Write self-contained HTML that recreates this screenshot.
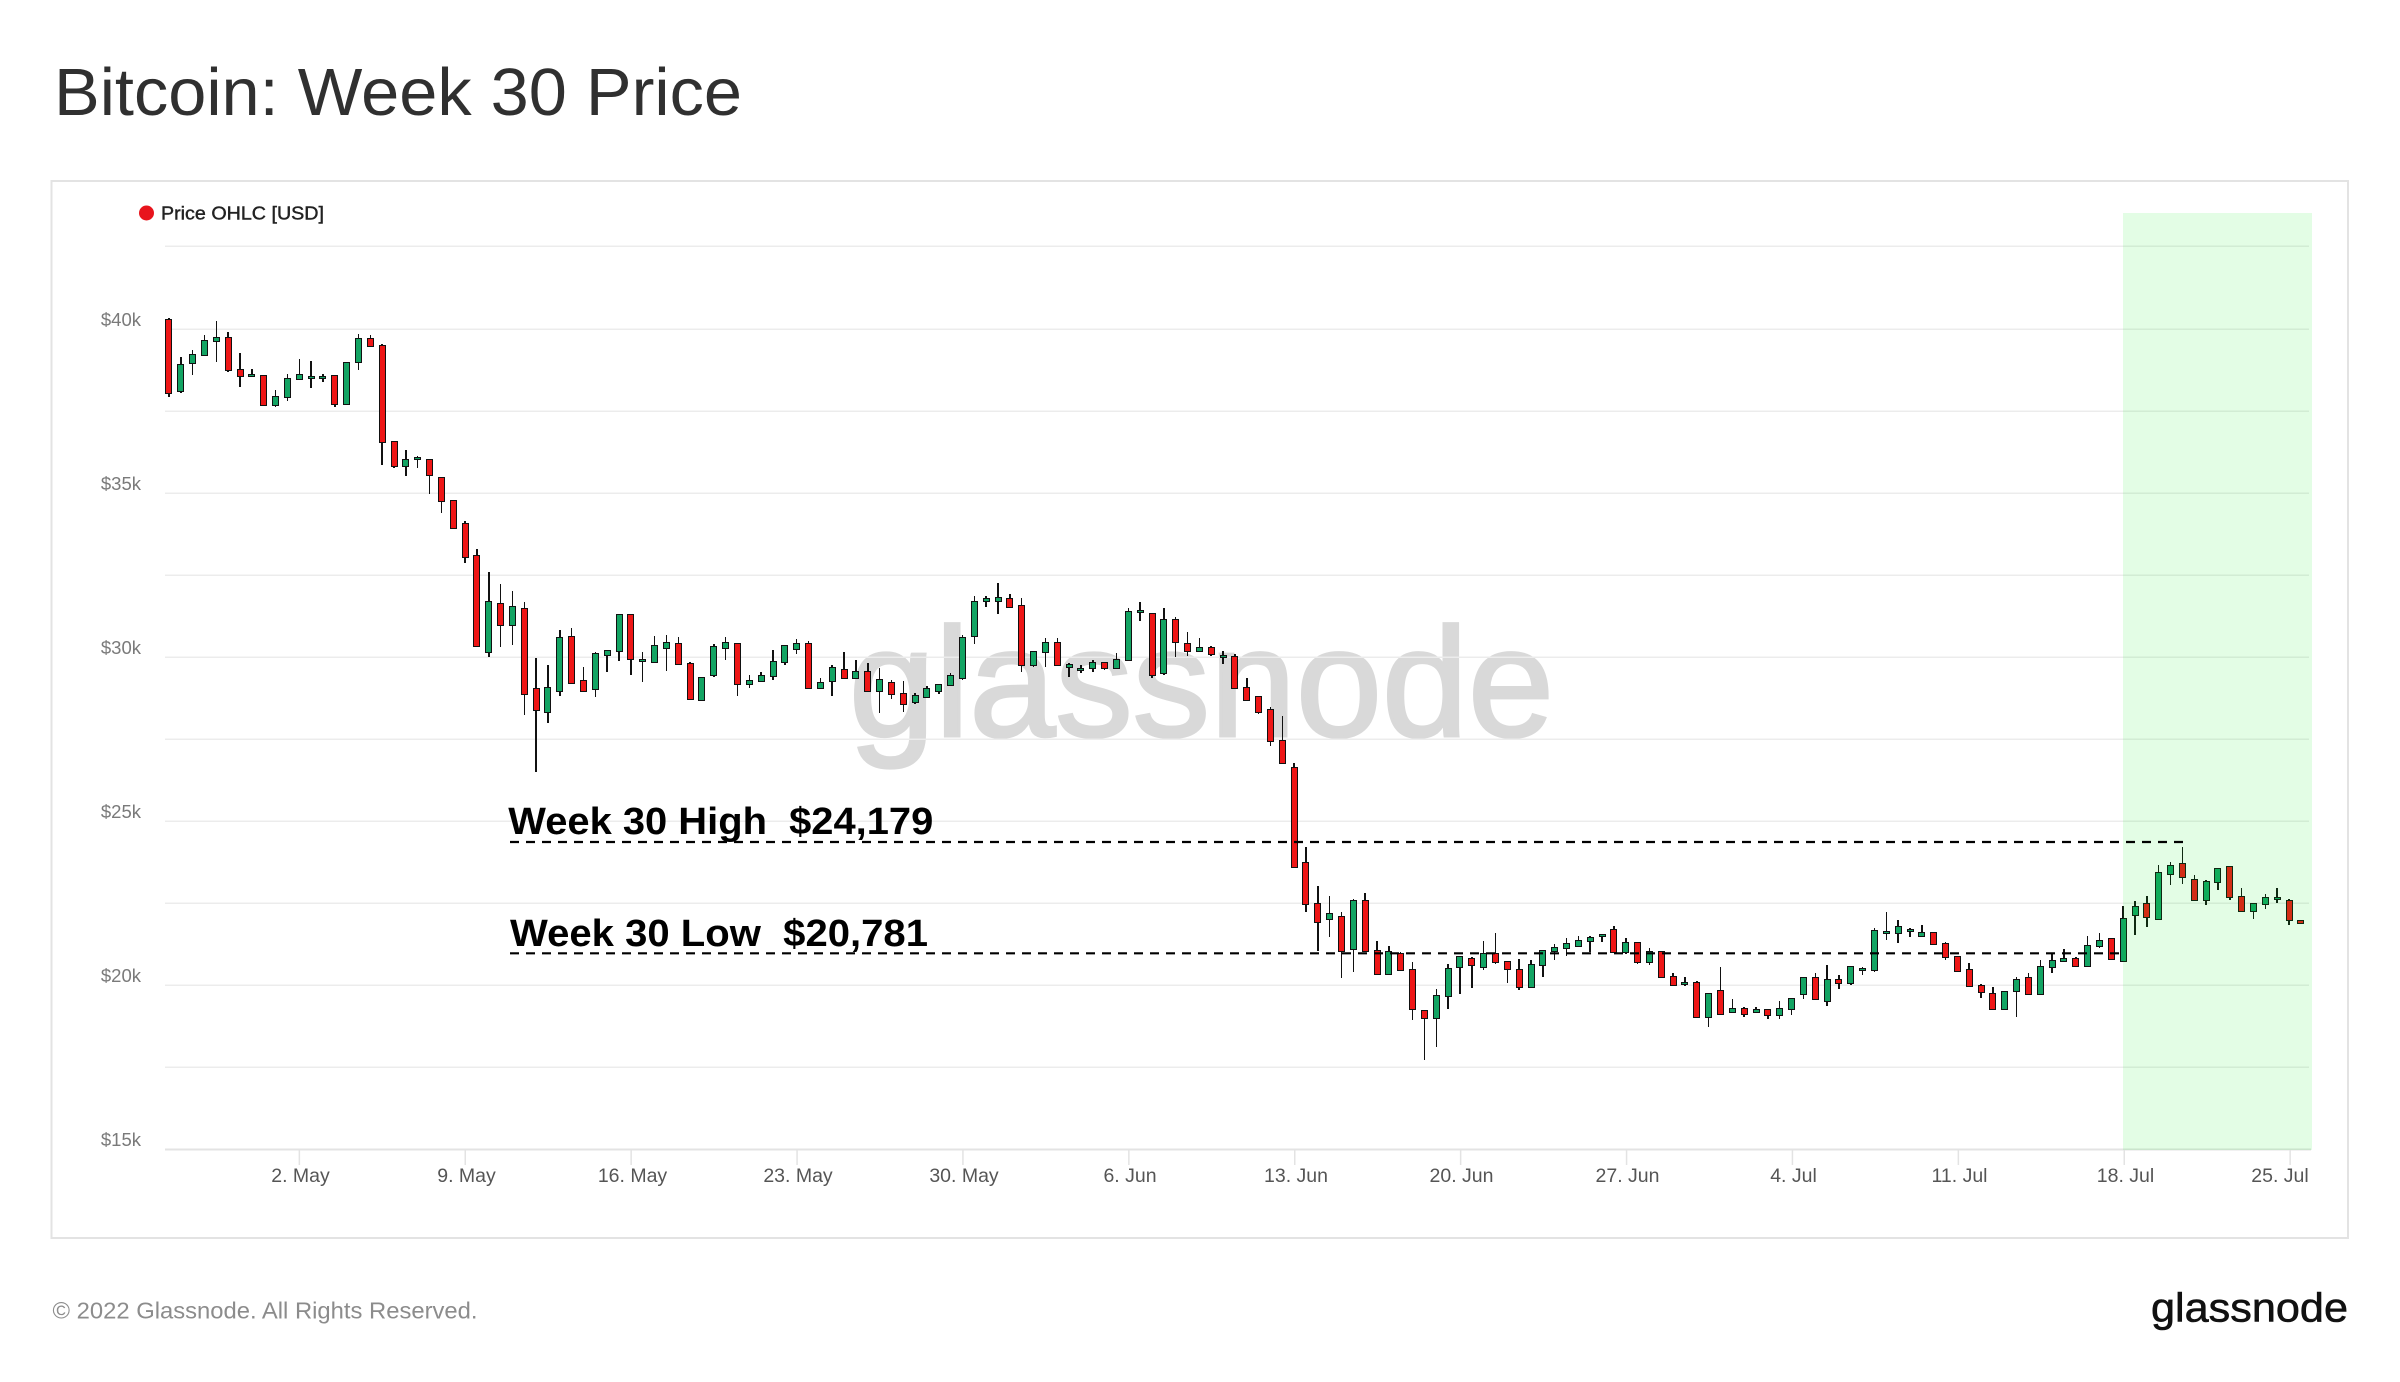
<!DOCTYPE html>
<html>
<head>
<meta charset="utf-8">
<style>
html,body{margin:0;padding:0;background:#fff;}
body{width:2400px;height:1382px;position:relative;overflow:hidden;font-family:"Liberation Sans",Arial,sans-serif;}
svg{position:absolute;left:0;top:0;}
.c{position:absolute;left:163.075px;top:0;height:1382px;display:flex;}
.c i{position:relative;flex:0 0 11.85px;width:11.85px;height:1382px;display:block;}
.c i::before{content:"";position:absolute;left:5.175px;width:1.5px;top:calc(var(--h) * 1px);height:calc((var(--l) - var(--h)) * 1px);background:#111;}
.c i::after{content:"";position:absolute;left:2.425px;width:7px;box-sizing:border-box;top:calc(var(--t) * 1px - 0.75px);height:calc((var(--b) - var(--t)) * 1px + 1.5px);border:1.5px solid #111;background:#13a463;}
.c i.r::after{background:#ee1616;}
.band{position:absolute;left:2123.3px;top:212.7px;width:188.4px;height:937.3px;background:rgba(0,237,19,0.11);}
</style>
</head>
<body>
<svg width="2400" height="1382" viewBox="0 0 2400 1382" xmlns="http://www.w3.org/2000/svg" font-family="'Liberation Sans', Arial, sans-serif">
  <text x="54" y="115" font-size="67" fill="#303030" textLength="688" lengthAdjust="spacingAndGlyphs">Bitcoin: Week 30 Price</text>
  <rect x="51.5" y="181" width="2296.5" height="1057" fill="none" stroke="#e3e3e3" stroke-width="2"/>
  <circle cx="146.5" cy="213" r="7.5" fill="#e8141c"/>
  <text x="161" y="219.5" font-size="18" fill="#222" stroke="#222" stroke-width="0.4" textLength="163" lengthAdjust="spacingAndGlyphs">Price OHLC [USD]</text>
  <!-- watermark -->
  <text x="849" y="736" font-size="155" fill="#d9d9d9" stroke="#d9d9d9" stroke-width="3" textLength="705" lengthAdjust="spacingAndGlyphs">glassnode</text>
  <!-- gridlines -->
  <g stroke="#ececec" stroke-width="1.5">
    <line x1="165" x2="2309" y1="246.3" y2="246.3"/>
    <line x1="165" x2="2309" y1="329.3" y2="329.3"/>
    <line x1="165" x2="2309" y1="411.3" y2="411.3"/>
    <line x1="165" x2="2309" y1="493.3" y2="493.3"/>
    <line x1="165" x2="2309" y1="575.3" y2="575.3"/>
    <line x1="165" x2="2309" y1="657.3" y2="657.3"/>
    <line x1="165" x2="2309" y1="739.3" y2="739.3"/>
    <line x1="165" x2="2309" y1="821.3" y2="821.3"/>
    <line x1="165" x2="2309" y1="903.3" y2="903.3"/>
    <line x1="165" x2="2309" y1="985.3" y2="985.3"/>
    <line x1="165" x2="2309" y1="1067.3" y2="1067.3"/>
  </g>
  <line x1="165" x2="2311" y1="1149.5" y2="1149.5" stroke="#e3e3e3" stroke-width="2"/>
  <g stroke="#e3e3e3" stroke-width="1.5">
    <line x1="299.35" x2="299.35" y1="1150" y2="1165"/>
    <line x1="465.25" x2="465.25" y1="1150" y2="1165"/>
    <line x1="631.15" x2="631.15" y1="1150" y2="1165"/>
    <line x1="797.05" x2="797.05" y1="1150" y2="1165"/>
    <line x1="962.95" x2="962.95" y1="1150" y2="1165"/>
    <line x1="1128.85" x2="1128.85" y1="1150" y2="1165"/>
    <line x1="1294.75" x2="1294.75" y1="1150" y2="1165"/>
    <line x1="1460.65" x2="1460.65" y1="1150" y2="1165"/>
    <line x1="1626.55" x2="1626.55" y1="1150" y2="1165"/>
    <line x1="1792.45" x2="1792.45" y1="1150" y2="1165"/>
    <line x1="1958.35" x2="1958.35" y1="1150" y2="1165"/>
    <line x1="2124.25" x2="2124.25" y1="1150" y2="1165"/>
    <line x1="2290.15" x2="2290.15" y1="1150" y2="1165"/>
  </g>
  <!-- y labels -->
  <g font-size="18.5" fill="#7a7a7a" text-anchor="end">
    <text x="141" y="326">$40k</text>
    <text x="141" y="490">$35k</text>
    <text x="141" y="654">$30k</text>
    <text x="141" y="818">$25k</text>
    <text x="141" y="982">$20k</text>
    <text x="141" y="1146">$15k</text>
  </g>
  <!-- x labels -->
  <g font-size="19.5" fill="#555" text-anchor="middle">
    <text x="300.5" y="1182">2. May</text>
    <text x="466.5" y="1182">9. May</text>
    <text x="632.5" y="1182">16. May</text>
    <text x="798" y="1182">23. May</text>
    <text x="964" y="1182">30. May</text>
    <text x="1130" y="1182">6. Jun</text>
    <text x="1296" y="1182">13. Jun</text>
    <text x="1461.5" y="1182">20. Jun</text>
    <text x="1627.5" y="1182">27. Jun</text>
    <text x="1793.5" y="1182">4. Jul</text>
    <text x="1959.5" y="1182">11. Jul</text>
    <text x="2125.5" y="1182">18. Jul</text>
    <text x="2280" y="1182">25. Jul</text>
  </g>
  <text x="52.5" y="1318.3" font-size="23" fill="#8c8c8c" textLength="425" lengthAdjust="spacingAndGlyphs">© 2022 Glassnode. All Rights Reserved.</text>
  <text x="2151" y="1321.7" font-size="41" fill="#111" stroke="#111" stroke-width="0.6" textLength="197" lengthAdjust="spacingAndGlyphs">glassnode</text>
</svg>

<div class="c">
<i class="r" style="--t:320;--b:393;--h:318;--l:397"></i>
<i style="--t:365;--b:391;--h:357;--l:393"></i>
<i style="--t:355;--b:363;--h:350;--l:375"></i>
<i style="--t:341;--b:355;--h:335;--l:355"></i>
<i style="--t:338;--b:341;--h:321;--l:362"></i>
<i class="r" style="--t:338;--b:370;--h:332;--l:372"></i>
<i class="r" style="--t:370;--b:376;--h:353;--l:387"></i>
<i style="--t:375;--b:376;--h:369;--l:376"></i>
<i class="r" style="--t:376;--b:405;--h:375;--l:405"></i>
<i style="--t:397;--b:405;--h:390;--l:407"></i>
<i style="--t:379;--b:397;--h:374;--l:401"></i>
<i style="--t:375;--b:379;--h:359;--l:379"></i>
<i style="--t:377;--b:378;--h:361;--l:388"></i>
<i style="--t:377;--b:378;--h:374;--l:382"></i>
<i class="r" style="--t:376;--b:404;--h:376;--l:407"></i>
<i style="--t:363;--b:404;--h:362;--l:404"></i>
<i style="--t:339;--b:362;--h:334;--l:370"></i>
<i class="r" style="--t:339;--b:346;--h:335;--l:346"></i>
<i class="r" style="--t:346;--b:442;--h:344;--l:465"></i>
<i class="r" style="--t:442;--b:466;--h:442;--l:468"></i>
<i style="--t:460;--b:466;--h:450;--l:476"></i>
<i style="--t:458;--b:459;--h:456;--l:468"></i>
<i class="r" style="--t:460;--b:475;--h:460;--l:494"></i>
<i class="r" style="--t:478;--b:501;--h:478;--l:513"></i>
<i class="r" style="--t:501;--b:528;--h:500;--l:529"></i>
<i class="r" style="--t:524;--b:557;--h:521;--l:563"></i>
<i class="r" style="--t:556;--b:646;--h:549;--l:646"></i>
<i style="--t:602;--b:652;--h:572;--l:657"></i>
<i class="r" style="--t:604;--b:625;--h:584;--l:647"></i>
<i style="--t:607;--b:625;--h:591;--l:645"></i>
<i class="r" style="--t:609;--b:694;--h:602;--l:715"></i>
<i class="r" style="--t:689;--b:710;--h:658;--l:772"></i>
<i style="--t:688;--b:712;--h:665;--l:723"></i>
<i style="--t:638;--b:691;--h:630;--l:696"></i>
<i class="r" style="--t:637;--b:683;--h:628;--l:683"></i>
<i class="r" style="--t:681;--b:691;--h:667;--l:692"></i>
<i style="--t:654;--b:689;--h:652;--l:697"></i>
<i style="--t:651;--b:655;--h:651;--l:672"></i>
<i style="--t:615;--b:651;--h:615;--l:661"></i>
<i class="r" style="--t:615;--b:659;--h:615;--l:675"></i>
<i style="--t:660;--b:661;--h:652;--l:682"></i>
<i style="--t:646;--b:662;--h:636;--l:662"></i>
<i style="--t:643;--b:648;--h:635;--l:671"></i>
<i class="r" style="--t:644;--b:664;--h:637;--l:664"></i>
<i class="r" style="--t:664;--b:699;--h:662;--l:699"></i>
<i style="--t:678;--b:700;--h:678;--l:700"></i>
<i style="--t:647;--b:675;--h:644;--l:677"></i>
<i style="--t:643;--b:648;--h:637;--l:660"></i>
<i class="r" style="--t:644;--b:684;--h:644;--l:696"></i>
<i style="--t:681;--b:684;--h:675;--l:688"></i>
<i style="--t:676;--b:681;--h:672;--l:681"></i>
<i style="--t:662;--b:676;--h:650;--l:680"></i>
<i style="--t:646;--b:662;--h:646;--l:665"></i>
<i style="--t:644;--b:649;--h:639;--l:654"></i>
<i class="r" style="--t:644;--b:688;--h:641;--l:689"></i>
<i style="--t:683;--b:688;--h:678;--l:688"></i>
<i style="--t:668;--b:681;--h:665;--l:696"></i>
<i class="r" style="--t:670;--b:678;--h:652;--l:678"></i>
<i style="--t:672;--b:678;--h:660;--l:678"></i>
<i class="r" style="--t:672;--b:691;--h:663;--l:691"></i>
<i style="--t:680;--b:691;--h:668;--l:713"></i>
<i class="r" style="--t:683;--b:694;--h:680;--l:699"></i>
<i class="r" style="--t:694;--b:704;--h:681;--l:712"></i>
<i style="--t:696;--b:702;--h:693;--l:704"></i>
<i style="--t:689;--b:697;--h:686;--l:697"></i>
<i style="--t:685;--b:691;--h:685;--l:694"></i>
<i style="--t:676;--b:685;--h:673;--l:686"></i>
<i style="--t:638;--b:678;--h:635;--l:680"></i>
<i style="--t:602;--b:636;--h:596;--l:644"></i>
<i style="--t:599;--b:601;--h:596;--l:607"></i>
<i style="--t:598;--b:601;--h:583;--l:614"></i>
<i class="r" style="--t:599;--b:607;--h:594;--l:607"></i>
<i class="r" style="--t:606;--b:665;--h:598;--l:672"></i>
<i style="--t:652;--b:665;--h:652;--l:667"></i>
<i style="--t:643;--b:652;--h:638;--l:667"></i>
<i class="r" style="--t:643;--b:665;--h:638;--l:665"></i>
<i style="--t:665;--b:667;--h:663;--l:677"></i>
<i style="--t:669;--b:670;--h:665;--l:673"></i>
<i style="--t:663;--b:668;--h:660;--l:672"></i>
<i class="r" style="--t:663;--b:668;--h:662;--l:670"></i>
<i style="--t:660;--b:668;--h:653;--l:668"></i>
<i style="--t:612;--b:660;--h:608;--l:660"></i>
<i style="--t:611;--b:612;--h:602;--l:621"></i>
<i class="r" style="--t:614;--b:675;--h:614;--l:678"></i>
<i style="--t:620;--b:673;--h:608;--l:675"></i>
<i class="r" style="--t:620;--b:642;--h:617;--l:657"></i>
<i class="r" style="--t:644;--b:651;--h:632;--l:656"></i>
<i style="--t:648;--b:651;--h:638;--l:651"></i>
<i class="r" style="--t:648;--b:654;--h:646;--l:656"></i>
<i style="--t:656;--b:657;--h:651;--l:664"></i>
<i class="r" style="--t:657;--b:688;--h:654;--l:689"></i>
<i class="r" style="--t:688;--b:700;--h:678;--l:700"></i>
<i class="r" style="--t:697;--b:712;--h:697;--l:714"></i>
<i class="r" style="--t:710;--b:741;--h:707;--l:746"></i>
<i class="r" style="--t:741;--b:763;--h:716;--l:763"></i>
<i class="r" style="--t:768;--b:867;--h:763;--l:867"></i>
<i class="r" style="--t:863;--b:904;--h:847;--l:912"></i>
<i class="r" style="--t:904;--b:922;--h:886;--l:951"></i>
<i style="--t:914;--b:919;--h:896;--l:937"></i>
<i class="r" style="--t:917;--b:951;--h:912;--l:978"></i>
<i style="--t:901;--b:949;--h:899;--l:972"></i>
<i class="r" style="--t:901;--b:951;--h:893;--l:952"></i>
<i class="r" style="--t:951;--b:974;--h:941;--l:975"></i>
<i style="--t:952;--b:974;--h:946;--l:974"></i>
<i class="r" style="--t:954;--b:970;--h:952;--l:970"></i>
<i class="r" style="--t:970;--b:1009;--h:962;--l:1020"></i>
<i class="r" style="--t:1011;--b:1018;--h:1011;--l:1060"></i>
<i style="--t:996;--b:1018;--h:989;--l:1047"></i>
<i style="--t:969;--b:996;--h:964;--l:1009"></i>
<i style="--t:957;--b:967;--h:956;--l:994"></i>
<i class="r" style="--t:959;--b:965;--h:957;--l:988"></i>
<i style="--t:954;--b:967;--h:941;--l:970"></i>
<i class="r" style="--t:954;--b:962;--h:933;--l:964"></i>
<i class="r" style="--t:962;--b:969;--h:962;--l:983"></i>
<i class="r" style="--t:970;--b:987;--h:959;--l:990"></i>
<i style="--t:965;--b:987;--h:960;--l:987"></i>
<i style="--t:951;--b:965;--h:951;--l:977"></i>
<i style="--t:948;--b:951;--h:944;--l:960"></i>
<i style="--t:944;--b:948;--h:938;--l:956"></i>
<i style="--t:941;--b:946;--h:936;--l:946"></i>
<i style="--t:938;--b:941;--h:936;--l:952"></i>
<i style="--t:935;--b:936;--h:935;--l:942"></i>
<i class="r" style="--t:930;--b:952;--h:926;--l:952"></i>
<i style="--t:943;--b:952;--h:938;--l:954"></i>
<i class="r" style="--t:943;--b:962;--h:943;--l:964"></i>
<i style="--t:952;--b:962;--h:948;--l:965"></i>
<i class="r" style="--t:952;--b:977;--h:951;--l:977"></i>
<i class="r" style="--t:977;--b:985;--h:973;--l:986"></i>
<i style="--t:983;--b:984;--h:977;--l:986"></i>
<i class="r" style="--t:983;--b:1017;--h:981;--l:1017"></i>
<i style="--t:994;--b:1017;--h:994;--l:1027"></i>
<i class="r" style="--t:991;--b:1014;--h:967;--l:1014"></i>
<i style="--t:1009;--b:1012;--h:999;--l:1012"></i>
<i class="r" style="--t:1009;--b:1014;--h:1007;--l:1017"></i>
<i style="--t:1010;--b:1012;--h:1007;--l:1012"></i>
<i class="r" style="--t:1010;--b:1015;--h:1009;--l:1019"></i>
<i style="--t:1009;--b:1015;--h:1001;--l:1019"></i>
<i style="--t:999;--b:1009;--h:999;--l:1015"></i>
<i style="--t:978;--b:994;--h:978;--l:999"></i>
<i class="r" style="--t:978;--b:999;--h:973;--l:999"></i>
<i style="--t:980;--b:1001;--h:965;--l:1006"></i>
<i class="r" style="--t:980;--b:983;--h:975;--l:989"></i>
<i style="--t:967;--b:983;--h:967;--l:985"></i>
<i style="--t:969;--b:970;--h:967;--l:975"></i>
<i style="--t:931;--b:970;--h:928;--l:972"></i>
<i style="--t:932;--b:933;--h:912;--l:940"></i>
<i style="--t:927;--b:933;--h:920;--l:943"></i>
<i style="--t:930;--b:931;--h:928;--l:937"></i>
<i style="--t:933;--b:936;--h:925;--l:936"></i>
<i class="r" style="--t:933;--b:944;--h:933;--l:944"></i>
<i class="r" style="--t:944;--b:957;--h:942;--l:960"></i>
<i class="r" style="--t:957;--b:971;--h:957;--l:972"></i>
<i class="r" style="--t:970;--b:986;--h:963;--l:986"></i>
<i class="r" style="--t:986;--b:992;--h:984;--l:998"></i>
<i class="r" style="--t:994;--b:1009;--h:987;--l:1009"></i>
<i style="--t:992;--b:1009;--h:991;--l:1009"></i>
<i style="--t:980;--b:991;--h:977;--l:1017"></i>
<i class="r" style="--t:978;--b:994;--h:973;--l:994"></i>
<i style="--t:967;--b:994;--h:960;--l:994"></i>
<i style="--t:961;--b:967;--h:954;--l:973"></i>
<i style="--t:959;--b:961;--h:949;--l:962"></i>
<i class="r" style="--t:959;--b:966;--h:957;--l:967"></i>
<i style="--t:946;--b:966;--h:936;--l:966"></i>
<i style="--t:941;--b:946;--h:933;--l:948"></i>
<i class="r" style="--t:939;--b:959;--h:938;--l:959"></i>
<i style="--t:919;--b:961;--h:906;--l:961"></i>
<i style="--t:907;--b:915;--h:901;--l:935"></i>
<i class="r" style="--t:904;--b:917;--h:896;--l:927"></i>
<i style="--t:873;--b:919;--h:865;--l:919"></i>
<i style="--t:866;--b:874;--h:862;--l:885"></i>
<i class="r" style="--t:864;--b:877;--h:847;--l:884"></i>
<i class="r" style="--t:880;--b:900;--h:875;--l:900"></i>
<i style="--t:882;--b:900;--h:880;--l:905"></i>
<i style="--t:869;--b:882;--h:869;--l:890"></i>
<i class="r" style="--t:867;--b:897;--h:866;--l:900"></i>
<i class="r" style="--t:897;--b:911;--h:888;--l:911"></i>
<i style="--t:904;--b:911;--h:903;--l:919"></i>
<i style="--t:898;--b:904;--h:894;--l:909"></i>
<i style="--t:898;--b:899;--h:888;--l:903"></i>
<i class="r" style="--t:901;--b:920;--h:899;--l:925"></i>
<i class="r" style="--t:921;--b:923;--h:921;--l:923"></i>
</div>

<div class="band"></div>

<svg width="2400" height="1382" viewBox="0 0 2400 1382" xmlns="http://www.w3.org/2000/svg" font-family="'Liberation Sans', Arial, sans-serif">
  <line x1="510" x2="2183" y1="842" y2="842" stroke="#000" stroke-width="2.2" stroke-dasharray="9 7"/>
  <line x1="510" x2="2123" y1="953.3" y2="953.3" stroke="#000" stroke-width="2.2" stroke-dasharray="9 7"/>
  <text x="508.3" y="834" font-size="38" font-weight="bold" fill="#000" textLength="425" lengthAdjust="spacingAndGlyphs">Week 30 High&#160; $24,179</text>
  <text x="510" y="946" font-size="38" font-weight="bold" fill="#000" textLength="418" lengthAdjust="spacingAndGlyphs">Week 30 Low&#160; $20,781</text>
</svg>
</body>
</html>
